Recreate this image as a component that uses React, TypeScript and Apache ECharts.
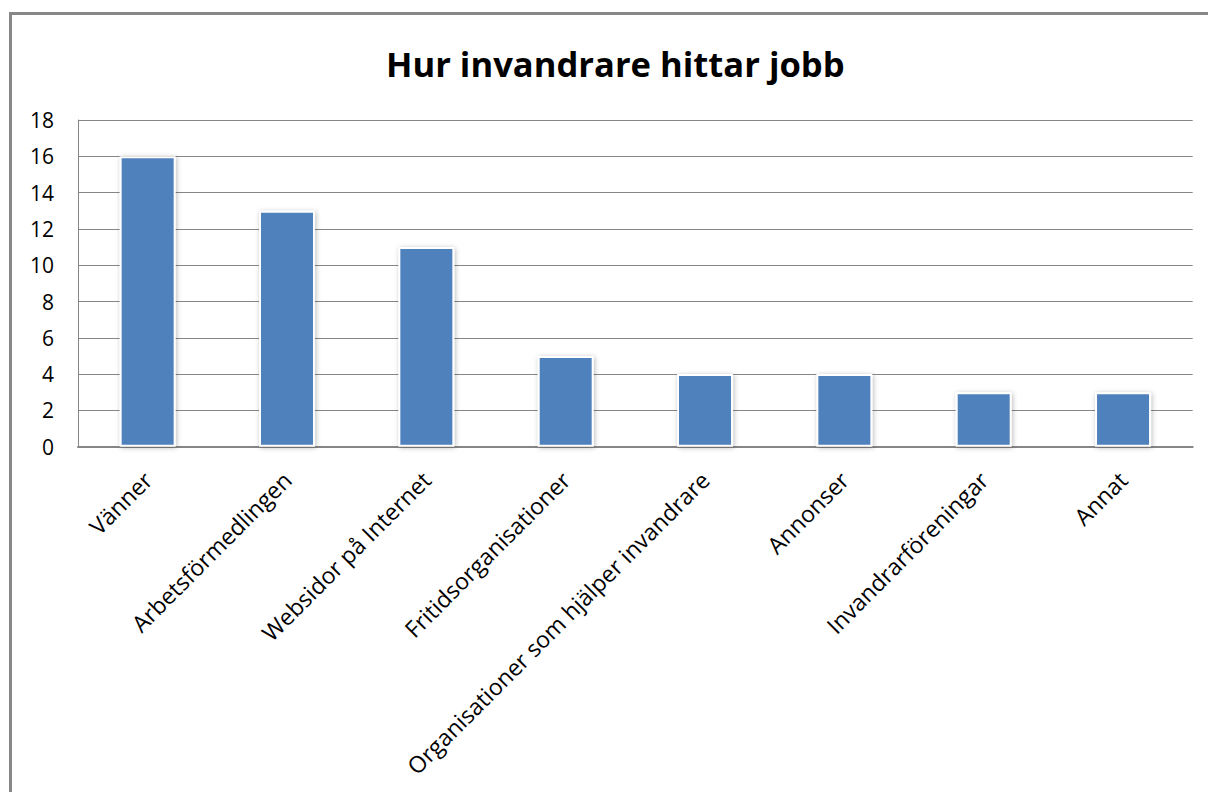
import React, { useEffect, useRef } from "react";
import * as echarts from "echarts";

const titleText = "Hur invandrare hittar jobb";
const categories = [
  "Vänner",
  "Arbetsförmedlingen",
  "Websidor på Internet",
  "Fritidsorganisationer",
  "Organisationer som hjälper invandrare",
  "Annonser",
  "Invandrarföreningar",
  "Annat",
];
const values = [16, 13, 11, 5, 4, 4, 3, 3];
const yMin = 0;
const yMax = 18;
const yStep = 2;

const FONT = "'Open Sans', 'Noto Sans', sans-serif";

export default function App() {
  const ref = useRef<HTMLDivElement>(null);
  useEffect(() => {
    if (!ref.current) return;
    const chart = echarts.init(ref.current, null, { renderer: "svg" });
    chart.setOption({
      animation: false,
      backgroundColor: "#ffffff",
      title: {
        text: titleText,
        left: 381,
        top: 41,
        textStyle: { fontFamily: FONT, fontWeight: "bold", fontSize: 34.6, color: "#000" },
      },
      graphic: [
        {
          type: "rect",
          shape: { x: 10.5, y: 13.5, width: 1400, height: 1000 },
          style: { fill: "none", stroke: "#878787", lineWidth: 3 },
          silent: true,
          z: 100,
        },
      ],
      grid: { left: 78, top: 120, right: 15.3, bottom: 345.3, containLabel: false },
      xAxis: {
        type: "category",
        data: categories,
        axisLine: { show: true, lineStyle: { color: "#868686", width: 2 } },
        axisTick: { show: false },
        axisLabel: {
          rotate: 45,
          interval: 0,
          margin: 29,
          fontFamily: FONT,
          fontSize: 23,
          color: "#000",
        },
      },
      yAxis: {
        type: "value",
        min: yMin,
        max: yMax,
        interval: yStep,
        axisLine: { show: true, lineStyle: { color: "#868686", width: 1 } },
        axisTick: { show: false },
        splitLine: { show: true, lineStyle: { color: "#868686", width: 1 } },
        axisLabel: {
          margin: 24,
          fontFamily: FONT,
          fontSize: 21,
          color: "#000",
        },
      },
      series: [
        {
          type: "bar",
          data: values,
          barWidth: 56,
          itemStyle: {
            color: "#4F81BD",
            borderColor: "#ffffff",
            borderWidth: 2,
            shadowBlur: 5,
            shadowColor: "rgba(0,0,0,0.28)",
            shadowOffsetX: 1,
            shadowOffsetY: 1,
          },
        },
      ],
    });
    return () => chart.dispose();
  }, []);
  return (
    <div
      ref={ref}
      style={{ position: "fixed", left: 0, top: 0, width: 1208, height: 792, background: "#fff" }}
    />
  );
}
